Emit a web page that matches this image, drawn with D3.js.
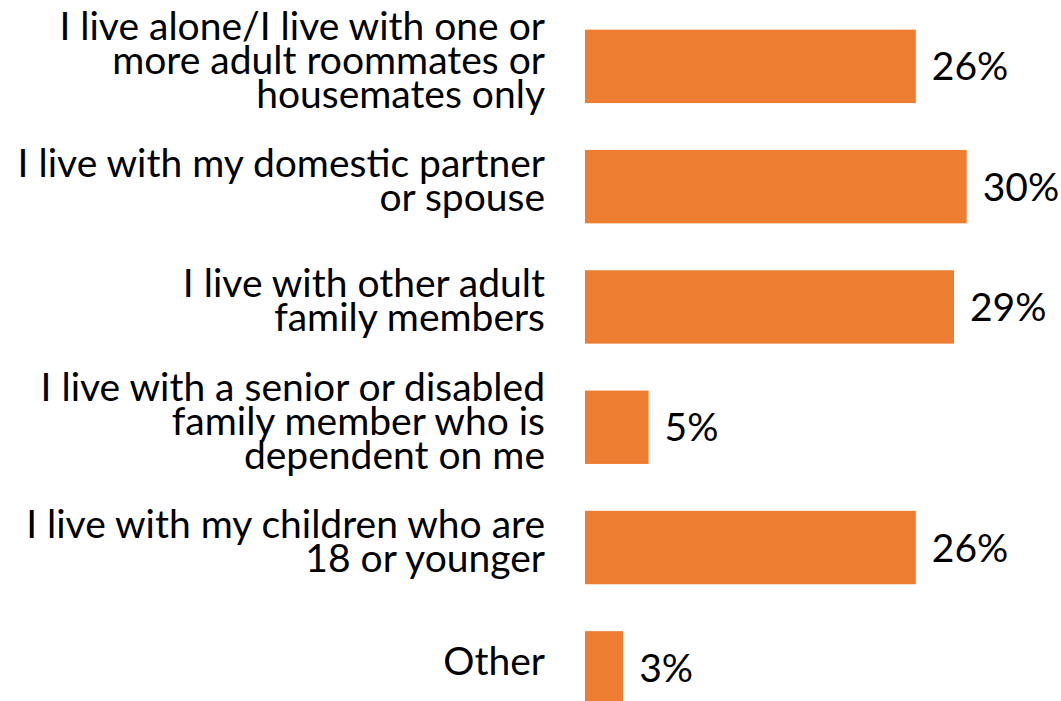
<!DOCTYPE html>
<html>
<head>
<meta charset="utf-8">
<script src="https://cdn.jsdelivr.net/npm/d3@7"></script>
<style>
	html, body { margin: 0; padding: 0; background: #fff; }
	svg { display: block; }
	text { font-family: Lato, "Open Sans", sans-serif; fill: #000; }
</style>
</head>
<body>
<svg id="chart" width="1061" height="701"></svg>
<script>
// categories, "\n" marks where the original label wraps
var categories = [
	'I live alone/I live with one or\nmore adult roommates or\nhousemates only',
	'I live with my domestic partner\nor spouse',
	'I live with other adult\nfamily members',
	'I live with a senior or disabled\nfamily member who is\ndependent on me',
	'I live with my children who are\n18 or younger',
	'Other'
];
var values = [26, 30, 29, 5, 26, 3];
var valueLabels = ['26%', '30%', '29%', '5%', '26%', '3%'];

var svg = d3.select('#chart');

var x = d3.scaleLinear()
	.domain([0, 30])
	.range([585, 966.7]);

var y = d3.scaleBand()
	.domain(categories)
	.range([6.2, 728])
	.paddingInner(0.39)
	.paddingOuter(0.195);

var rows = svg.selectAll('.row')
	.data(categories)
	.enter()
	.append('g')
		.classed('row', true);

rows.append('rect')
	.attr('x', x(0))
	.attr('y', d => y(d))
	.attr('width', (d, i) => x(values[i]) - x(0))
	.attr('height', y.bandwidth())
	.attr('fill', '#ED7D31');

rows.append('text')
	.attr('x', (d, i) => x(values[i]) + 16)
	.attr('y', d => y(d) + y.bandwidth() / 2 + 14)
	.style('font-size', '39px')
	.text((d, i) => valueLabels[i]);

var lineGap = 34;

rows.append('text')
	.attr('text-anchor', 'end')
	.style('font-size', '39px')
	.each(function(d) {
		var lines = d.split('\n');
		var mid = y(d) + y.bandwidth() / 2 + 7.4;
		var first = mid - (lines.length - 1) / 2 * lineGap;
		d3.select(this).selectAll('tspan')
			.data(lines)
			.enter()
			.append('tspan')
				.attr('x', 545)
				.attr('y', (l, j) => first + j * lineGap)
				.text(l => l);
	});
</script>
</body>
</html>
